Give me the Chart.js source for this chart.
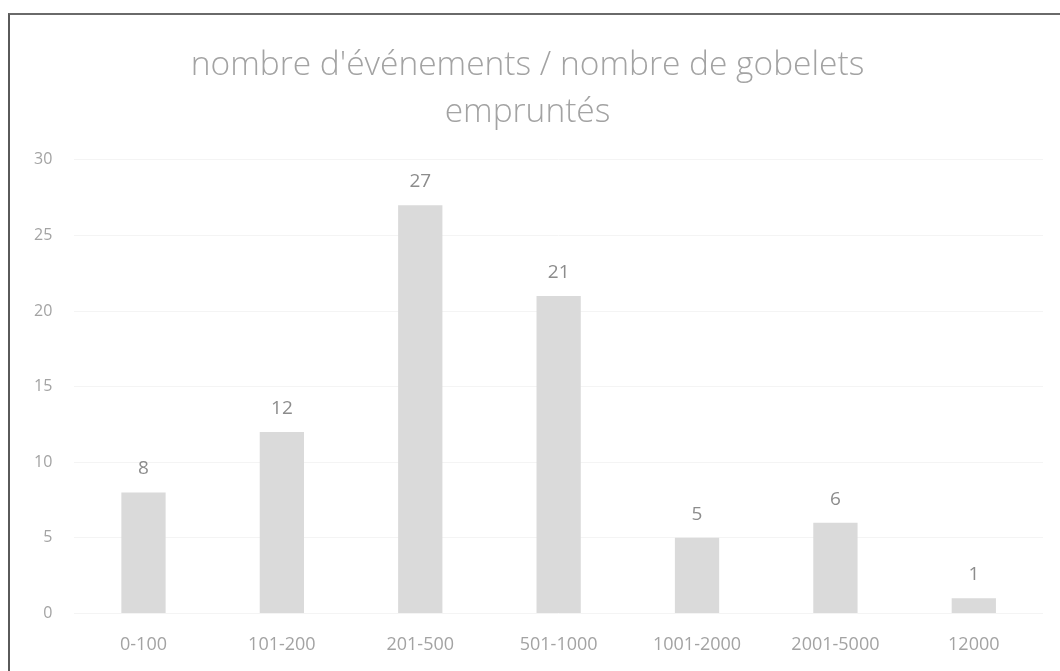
<!DOCTYPE html>
<html>
<head>
<meta charset="utf-8">
<script src="https://cdn.jsdelivr.net/npm/chart.js@4"></script>
<style>
  html, body { margin: 0; padding: 0; background: #fff; }
  #wrap { position: relative; width: 1060px; height: 671px; overflow: hidden; }
  #cadre { position: absolute; left: 8px; top: 13px; width: 1100px; height: 700px;
           border-left: 2px solid #5a5a5a; border-top: 2px solid #6a6a6a; }
  canvas { position: absolute; left: 0; top: 0; }
</style>
</head>
<body>
<div id="wrap">
  <div id="cadre"></div>
  <canvas id="graphique" width="1060" height="671"></canvas>
</div>
<script>
var categories = ['0-100', '101-200', '201-500', '501-1000', '1001-2000', '2001-5000', '12000'];
var evenements = [8, 12, 27, 21, 5, 6, 1];
var graduations = [0, 5, 10, 15, 20, 25, 30];

var gris = '#a3a3a3';

// etiquettes au-dessus des barres
var etiquettes = {
	id: 'etiquettes',
	afterDatasetsDraw(chart) {
		var ctx = chart.ctx;
		var meta = chart.getDatasetMeta(0);
		ctx.save();
		ctx.fillStyle = '#8c8c8c';
		ctx.font = '19px "Open Sans"';
		ctx.textAlign = 'center';
		ctx.textBaseline = 'bottom';
		meta.data.forEach(function(barre, i) {
			ctx.fillText(evenements[i], barre.x, barre.y - 14);
		});
		ctx.restore();
	}
};

var graphique = document.getElementById('graphique').getContext('2d');
new Chart(graphique, {
	type: 'bar',
	data: {
		labels: categories,
		datasets: [{
			label: "nombre d'événements",
			data: evenements,
			backgroundColor: '#dadada',
			barPercentage: 0.64,
			categoryPercentage: 0.5
		}]
	},
	options: {
		responsive: false,
		animation: false,
		layout: { padding: { top: 26, left: 12, right: 17, bottom: 2 } },
		plugins: {
			legend: { display: false },
			tooltip: { enabled: false },
			title: {
				display: true,
				text: ["nombre d'événements / nombre de gobelets", 'empruntés'],
				color: gris,
				font: { family: '"Open Sans"', size: 33.5, weight: '300', lineHeight: 1.4 },
				padding: { top: 16, bottom: 24 }
			}
		},
		scales: {
			x: {
				grid: { display: false },
				border: { display: false },
				ticks: { color: gris, font: { family: '"Open Sans"', size: 18 }, padding: 13 }
			},
			y: {
				min: 0,
				max: 30,
				afterBuildTicks: function(axis) {
					axis.ticks = graduations.map(function(v) { return { value: v }; });
				},
				grid: { color: '#f4f4f4', drawTicks: false },
				border: { display: false },
				ticks: { color: gris, font: { family: '"Open Sans"', size: 16 }, padding: 22 }
			}
		}
	},
	plugins: [etiquettes]
});
</script>
</body>
</html>
